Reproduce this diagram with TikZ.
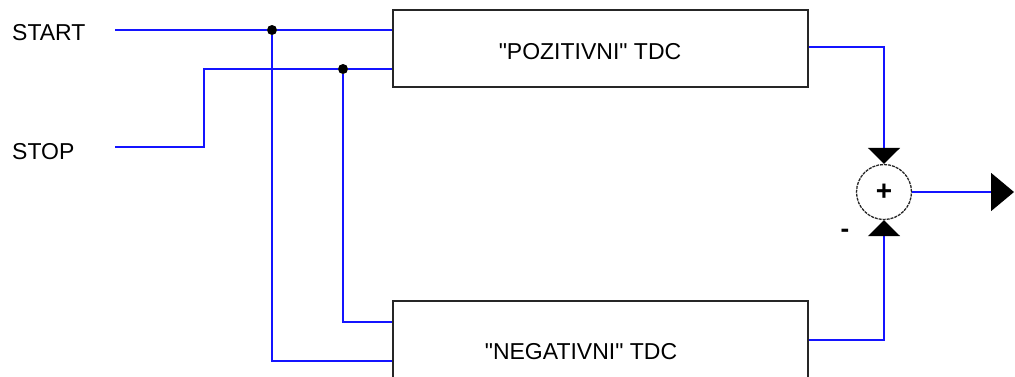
\documentclass[tikz,border=0pt]{standalone}
\usepackage{fontspec}
\setmainfont{Liberation Sans}
\usetikzlibrary{arrows.meta}
\definecolor{wire}{RGB}{20,20,255}
\newcommand{\qmark}{\XeTeXglyph\XeTeXcharglyph"22\relax}
\begin{document}
\begin{tikzpicture}[x=1pt,y=-1pt,
  wireline/.style={draw=wire,line width=1.6pt},
  block/.style={draw=black!85,line width=1.4pt,minimum width=415pt,inner sep=0pt,font=\fontsize{23}{26}\selectfont},
  lbl/.style={font=\fontsize{23}{26}\selectfont,inner sep=0pt},
  tip/.style={-{Triangle[width=32pt,length=16pt,black]}},
  dotnode/.style={circle,fill=black,inner sep=0pt,minimum size=10pt}]
\useasboundingbox (0,0) rectangle (1015,376);
\node[block,minimum height=77pt] (pos) at (600.5,48.5) {};
\node[block,minimum height=96pt] (neg) at (600.5,349) {};
\node[lbl] (postext) at (590,52) {\qmark POZITIVNI\qmark\ TDC};
\node[lbl] (negtext) at (581,352) {\qmark NEGATIVNI\qmark\ TDC};
\node[lbl,anchor=west] (start) at (12,33) {START};
\node[lbl,anchor=west] (stop) at (12,152) {STOP};
\coordinate (startend) at (115,30);
\coordinate (stopend) at (115,147);
\node[circle,draw=black!85,line width=1.3pt,dash pattern=on 3pt off 1pt,minimum width=51pt,minimum height=55pt,inner sep=0pt,font=\fontsize{28}{30}\selectfont\bfseries] (sum) at (884,192) {+};
\node[font=\fontsize{26}{28}\selectfont\bfseries,inner sep=0pt] (minus) at (845,233) {-};
\node[dotnode] (d1) at (272,30) {};
\node[dotnode] (d2) at (343,69) {};
\coordinate (outend) at (1014,192);
% START
\draw[wireline] (startend) -- (d1) -- (pos.west |- d1);
\draw[wireline] (d1) |- (neg.west |- 0,361);
% STOP
\draw[wireline] (stopend) -- (204,147) |- (d2) -- (pos.west |- d2);
\draw[wireline] (d2) |- (neg.west |- 0,322);
% outputs
\draw[wireline,tip] (pos.east |- 0,47) -| (sum.north);
\draw[wireline,tip] (neg.east |- 0,340) -| (sum.south);
\draw[wireline] (sum.east) -- (990,192);
\path[-{Triangle[width=38pt,length=23pt,black]},draw=wire,line width=1.6pt] (989,192) -- (outend);
\end{tikzpicture}
\end{document}
